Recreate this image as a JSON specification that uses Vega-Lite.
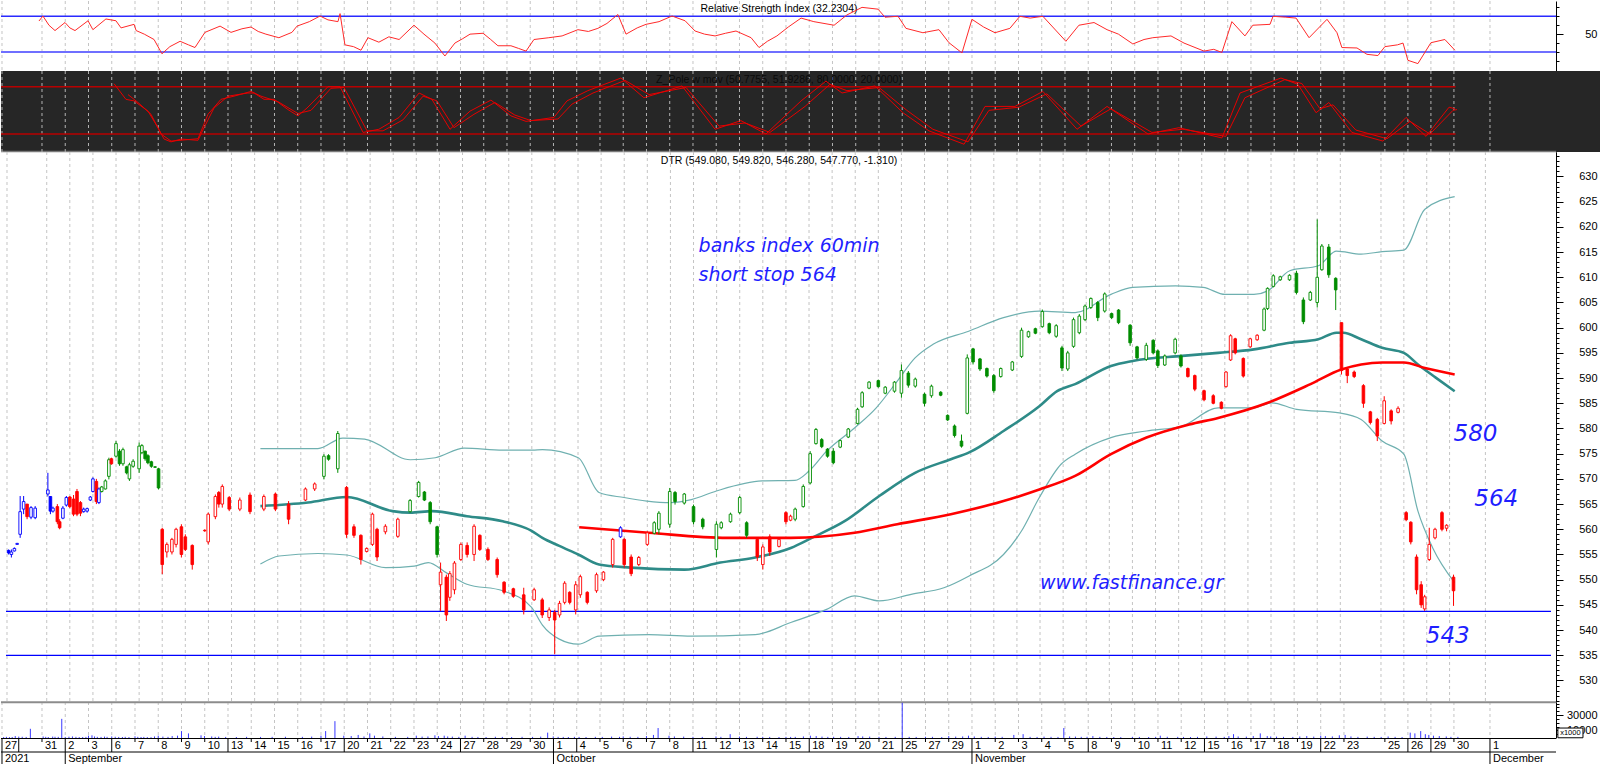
{
"$schema":"https://vega.github.io/schema/vega-lite/v6.json",
"padding":0,"spacing":0,"bounds":"flush","background":"white",
"config":{"view":{"stroke":null},"font":"Liberation Sans","axis":{"grid":false,"labelFontSize":11,"labelFont":"Liberation Sans","labelColor":"#000","domainColor":"#000","tickColor":"#000","labelAlign":"right","labelBaseline":"middle","minExtent":45,"maxExtent":45,"labelFlush":false,"labelOverlap":false}},
"datasets":{
"days":[{"v":0.28,"d":"27","wk":true},{"v":1.0,"d":"","wk":true},{"v":2,"d":"31","wk":false},{"v":3,"d":"2","wk":true},{"v":4,"d":"3","wk":false},{"v":5,"d":"6","wk":true},{"v":6,"d":"7","wk":false},{"v":7,"d":"8","wk":false},{"v":8,"d":"9","wk":false},{"v":9,"d":"10","wk":false},{"v":10,"d":"13","wk":true},{"v":11,"d":"14","wk":false},{"v":12,"d":"15","wk":false},{"v":13,"d":"16","wk":false},{"v":14,"d":"17","wk":false},{"v":15,"d":"20","wk":true},{"v":16,"d":"21","wk":false},{"v":17,"d":"22","wk":false},{"v":18,"d":"23","wk":false},{"v":19,"d":"24","wk":false},{"v":20,"d":"27","wk":true},{"v":21,"d":"28","wk":false},{"v":22,"d":"29","wk":false},{"v":23,"d":"30","wk":false},{"v":24,"d":"1","wk":true},{"v":25,"d":"4","wk":true},{"v":26,"d":"5","wk":false},{"v":27,"d":"6","wk":false},{"v":28,"d":"7","wk":false},{"v":29,"d":"8","wk":false},{"v":30,"d":"11","wk":true},{"v":31,"d":"12","wk":false},{"v":32,"d":"13","wk":false},{"v":33,"d":"14","wk":false},{"v":34,"d":"15","wk":false},{"v":35,"d":"18","wk":true},{"v":36,"d":"19","wk":false},{"v":37,"d":"20","wk":false},{"v":38,"d":"21","wk":false},{"v":39,"d":"25","wk":true},{"v":40,"d":"27","wk":false},{"v":41,"d":"29","wk":false},{"v":42,"d":"1","wk":true},{"v":43,"d":"2","wk":false},{"v":44,"d":"3","wk":false},{"v":45,"d":"4","wk":false},{"v":46,"d":"5","wk":false},{"v":47,"d":"8","wk":true},{"v":48,"d":"9","wk":false},{"v":49,"d":"10","wk":false},{"v":50,"d":"11","wk":false},{"v":51,"d":"12","wk":false},{"v":52,"d":"15","wk":true},{"v":53,"d":"16","wk":false},{"v":54,"d":"17","wk":false},{"v":55,"d":"18","wk":false},{"v":56,"d":"19","wk":false},{"v":57,"d":"22","wk":true},{"v":58,"d":"23","wk":false},{"v":59.76,"d":"25","wk":false},{"v":60.75,"d":"26","wk":true},{"v":61.74,"d":"29","wk":true},{"v":62.73,"d":"30","wk":false},{"v":64.28,"d":"1","wk":true}],
"months":[{"v":0.28,"m":"2021"},{"v":3,"m":"September"},{"v":24,"m":"October"},{"v":42,"m":"November"},{"v":64.28,"m":"December"}],
"rsi":[{"v":1.87,"r":64.7},{"v":2.04,"r":70.3},{"v":2.3,"r":60},{"v":2.56,"r":54},{"v":2.99,"r":63},{"v":3.2,"r":57},{"v":3.42,"r":54},{"v":3.98,"r":65},{"v":4.19,"r":55},{"v":4.75,"r":67},{"v":5.18,"r":65},{"v":5.4,"r":57},{"v":5.96,"r":61},{"v":6.05,"r":54},{"v":6.4,"r":50},{"v":6.82,"r":44},{"v":7.16,"r":28},{"v":7.5,"r":36},{"v":7.94,"r":42},{"v":8.3,"r":38},{"v":8.58,"r":35},{"v":9.01,"r":52},{"v":9.66,"r":59},{"v":10.13,"r":52},{"v":10.6,"r":56},{"v":10.99,"r":58},{"v":11.3,"r":53},{"v":11.63,"r":50},{"v":12.19,"r":46},{"v":12.75,"r":52},{"v":12.97,"r":59},{"v":13.5,"r":64},{"v":13.96,"r":70.3},{"v":14.3,"r":66},{"v":14.73,"r":64},{"v":14.82,"r":73},{"v":15.03,"r":38},{"v":15.4,"r":36},{"v":15.72,"r":32},{"v":16.02,"r":46},{"v":16.49,"r":41},{"v":16.92,"r":47},{"v":17.36,"r":44},{"v":18.0,"r":60},{"v":18.43,"r":50},{"v":18.9,"r":40},{"v":19.33,"r":25.5},{"v":19.76,"r":40},{"v":20.1,"r":45},{"v":20.41,"r":50},{"v":20.97,"r":51},{"v":21.3,"r":44},{"v":21.61,"r":37},{"v":22.17,"r":37},{"v":22.5,"r":34},{"v":22.82,"r":31},{"v":23.16,"r":44},{"v":23.8,"r":46},{"v":24.37,"r":48},{"v":25.05,"r":55},{"v":25.5,"r":53},{"v":25.91,"r":56.5},{"v":26.3,"r":62},{"v":26.77,"r":72},{"v":27.12,"r":50},{"v":27.6,"r":57},{"v":27.98,"r":61},{"v":28.54,"r":64},{"v":29.1,"r":70.3},{"v":29.66,"r":65},{"v":30.09,"r":53.5},{"v":30.5,"r":50},{"v":30.95,"r":48},{"v":31.4,"r":51},{"v":31.85,"r":53.5},{"v":32.5,"r":46},{"v":32.84,"r":35},{"v":33.2,"r":42},{"v":33.61,"r":48},{"v":34.1,"r":58},{"v":34.65,"r":68},{"v":35.2,"r":64},{"v":36.07,"r":60},{"v":36.62,"r":71.5},{"v":37.27,"r":80},{"v":37.96,"r":78},{"v":38.26,"r":69},{"v":38.82,"r":70},{"v":39.16,"r":56.5},{"v":39.89,"r":51.6},{"v":40.58,"r":55},{"v":41.01,"r":40.4},{"v":41.57,"r":29},{"v":42.0,"r":66.6},{"v":42.5,"r":58},{"v":42.99,"r":51.6},{"v":43.63,"r":56.5},{"v":44.06,"r":70},{"v":44.5,"r":68},{"v":45.05,"r":70},{"v":46.04,"r":42},{"v":46.6,"r":60},{"v":47.25,"r":63},{"v":47.81,"r":55},{"v":48.3,"r":50},{"v":48.92,"r":39},{"v":49.4,"r":44},{"v":49.78,"r":46},{"v":50.56,"r":48},{"v":51.12,"r":40},{"v":51.98,"r":31},{"v":52.4,"r":33},{"v":52.75,"r":29.5},{"v":53.18,"r":64},{"v":53.74,"r":48},{"v":54.08,"r":60},{"v":54.82,"r":61},{"v":54.95,"r":70},{"v":55.5,"r":69},{"v":55.94,"r":68},{"v":56.5,"r":46},{"v":57.27,"r":66.6},{"v":57.7,"r":51.6},{"v":57.91,"r":35},{"v":58.56,"r":34.5},{"v":58.99,"r":27.4},{"v":59.46,"r":26},{"v":59.76,"r":36},{"v":60.3,"r":38},{"v":60.54,"r":40},{"v":60.75,"r":20.7},{"v":61.18,"r":17},{"v":61.74,"r":40.4},{"v":62.34,"r":44},{"v":62.77,"r":32}],
"zp":[{"s":"a","v":5.1,"z":83.8},{"s":"a","v":5.61,"z":64},{"s":"a","v":5.96,"z":62},{"s":"a","v":6.56,"z":49},{"s":"a","v":6.99,"z":28},{"s":"a","v":7.25,"z":13.6},{"s":"a","v":7.55,"z":10},{"s":"a","v":7.98,"z":13.6},{"s":"a","v":8.71,"z":12},{"s":"a","v":8.97,"z":28},{"s":"a","v":9.4,"z":53},{"s":"a","v":10.0,"z":68},{"s":"a","v":10.86,"z":72},{"s":"a","v":11.12,"z":72},{"s":"a","v":11.55,"z":64},{"s":"a","v":11.98,"z":64},{"s":"a","v":12.58,"z":51},{"s":"a","v":13.01,"z":43},{"s":"a","v":13.4,"z":53},{"s":"a","v":14.3,"z":80},{"s":"a","v":14.82,"z":80},{"s":"a","v":15.81,"z":22},{"s":"a","v":16.49,"z":26},{"s":"a","v":17.36,"z":41},{"s":"a","v":18.22,"z":72},{"s":"a","v":18.77,"z":64},{"s":"a","v":19.55,"z":26},{"s":"a","v":20.41,"z":49},{"s":"a","v":21.31,"z":63},{"s":"a","v":22.17,"z":43},{"s":"a","v":22.82,"z":36},{"s":"a","v":24.02,"z":41},{"s":"a","v":24.58,"z":62},{"s":"a","v":25.48,"z":75},{"s":"a","v":26.9,"z":91},{"s":"a","v":27.89,"z":66},{"s":"a","v":29.53,"z":81},{"s":"a","v":30.95,"z":26},{"s":"a","v":32.06,"z":37},{"s":"a","v":33.14,"z":20},{"s":"a","v":34.65,"z":62},{"s":"a","v":35.72,"z":87},{"s":"a","v":36.41,"z":72},{"s":"a","v":37.83,"z":81},{"s":"a","v":39.03,"z":47},{"s":"a","v":40.15,"z":24},{"s":"a","v":41.66,"z":7},{"s":"a","v":42.56,"z":55},{"s":"a","v":43.85,"z":55},{"s":"a","v":45.05,"z":74},{"s":"a","v":46.52,"z":26},{"s":"a","v":47.81,"z":55},{"s":"a","v":49.57,"z":20},{"s":"a","v":50.9,"z":28},{"s":"a","v":52.75,"z":15},{"s":"a","v":53.53,"z":72},{"s":"a","v":55.29,"z":91},{"s":"a","v":56.02,"z":83},{"s":"a","v":56.8,"z":47},{"s":"a","v":57.35,"z":60},{"s":"a","v":58.34,"z":22},{"s":"a","v":59.68,"z":11},{"s":"a","v":60.67,"z":41},{"s":"a","v":61.53,"z":17},{"s":"a","v":62.52,"z":54},{"s":"a","v":62.77,"z":52},
{"s":"b","v":5.7,"z":70},{"s":"b","v":6.13,"z":60},{"s":"b","v":6.69,"z":45},{"s":"b","v":7.12,"z":20},{"s":"b","v":7.55,"z":11},{"s":"b","v":8.71,"z":14},{"s":"b","v":9.14,"z":45},{"s":"b","v":9.7,"z":64},{"s":"b","v":10.26,"z":68},{"s":"b","v":10.99,"z":74},{"s":"b","v":11.42,"z":68},{"s":"b","v":12.15,"z":61},{"s":"b","v":13.01,"z":46},{"s":"b","v":13.57,"z":50},{"s":"b","v":14.43,"z":78},{"s":"b","v":14.99,"z":79},{"s":"b","v":15.98,"z":24},{"s":"b","v":16.67,"z":24},{"s":"b","v":17.53,"z":38},{"s":"b","v":18.39,"z":68},{"s":"b","v":18.99,"z":62},{"s":"b","v":19.72,"z":28},{"s":"b","v":20.58,"z":45},{"s":"b","v":21.48,"z":60},{"s":"b","v":22.34,"z":44},{"s":"b","v":23.03,"z":37},{"s":"b","v":24.19,"z":39},{"s":"b","v":24.8,"z":58},{"s":"b","v":25.7,"z":72},{"s":"b","v":27.08,"z":88},{"s":"b","v":28.11,"z":70},{"s":"b","v":29.7,"z":79},{"s":"b","v":31.12,"z":30},{"s":"b","v":32.24,"z":34},{"s":"b","v":33.31,"z":22},{"s":"b","v":34.82,"z":55},{"s":"b","v":35.89,"z":83},{"s":"b","v":36.62,"z":75},{"s":"b","v":38.0,"z":79},{"s":"b","v":39.2,"z":50},{"s":"b","v":40.32,"z":26},{"s":"b","v":41.83,"z":10},{"s":"b","v":42.73,"z":50},{"s":"b","v":44.02,"z":54},{"s":"b","v":45.22,"z":71},{"s":"b","v":46.69,"z":30},{"s":"b","v":47.98,"z":52},{"s":"b","v":49.74,"z":22},{"s":"b","v":51.07,"z":26},{"s":"b","v":52.92,"z":17},{"s":"b","v":53.74,"z":66},{"s":"b","v":55.46,"z":89},{"s":"b","v":56.19,"z":84},{"s":"b","v":56.97,"z":52},{"s":"b","v":57.53,"z":57},{"s":"b","v":58.51,"z":25},{"s":"b","v":59.85,"z":14},{"s":"b","v":60.84,"z":36},{"s":"b","v":61.7,"z":20},{"s":"b","v":62.69,"z":50},{"s":"b","v":62.86,"z":51}],
"bands":[{"s":"up","v":11.25,"y":576.0},{"s":"up","v":13.74,"y":576.0},{"s":"up","v":14.82,"y":578.1},{"s":"up","v":15.76,"y":577.9},{"s":"up","v":17.74,"y":573.8},{"s":"up","v":18.82,"y":574.2},{"s":"up","v":20.07,"y":576.1},{"s":"up","v":21.74,"y":575.7},{"s":"up","v":23.03,"y":575.7},{"s":"up","v":23.46,"y":575.8},{"s":"up","v":25.01,"y":574.2},{"s":"up","v":25.91,"y":567.3},{"s":"up","v":26.99,"y":566.3},{"s":"up","v":27.98,"y":565.6},{"s":"up","v":29.01,"y":565.3},{"s":"up","v":29.91,"y":565.9},{"s":"up","v":30.99,"y":567.6},{"s":"up","v":32.97,"y":569.6},{"s":"up","v":34.39,"y":569.7},{"s":"up","v":34.99,"y":571.5},{"s":"up","v":35.76,"y":575.5},{"s":"up","v":36.97,"y":580.1},{"s":"up","v":37.91,"y":584.1},{"s":"up","v":38.82,"y":589.4},{"s":"up","v":39.59,"y":594.0},{"s":"up","v":40.37,"y":596.7},{"s":"up","v":41.91,"y":599.3},{"s":"up","v":43.42,"y":602.0},{"s":"up","v":44.97,"y":603.3},{"s":"up","v":46.52,"y":603.0},{"s":"up","v":48.07,"y":606.6},{"s":"up","v":49.01,"y":608.0},{"s":"up","v":50.86,"y":608.3},{"s":"up","v":52.06,"y":608.0},{"s":"up","v":53.01,"y":606.6},{"s":"up","v":54.26,"y":606.6},{"s":"up","v":54.86,"y":607.3},{"s":"up","v":55.81,"y":611.3},{"s":"up","v":57.05,"y":612.3},{"s":"up","v":57.83,"y":615.2},{"s":"up","v":58.9,"y":614.6},{"s":"up","v":59.81,"y":615.1},{"s":"up","v":60.75,"y":615.4},{"s":"up","v":61.66,"y":623.5},{"s":"up","v":62.95,"y":626.0},
{"s":"mid","v":11.25,"y":564.6},{"s":"mid","v":13.31,"y":565.3},{"s":"mid","v":14.99,"y":566.4},{"s":"mid","v":16.97,"y":563.6},{"s":"mid","v":17.74,"y":563.3},{"s":"mid","v":18.69,"y":563.6},{"s":"mid","v":20.19,"y":562.6},{"s":"mid","v":21.74,"y":561.6},{"s":"mid","v":22.99,"y":559.7},{"s":"mid","v":23.46,"y":558.3},{"s":"mid","v":24.19,"y":556.7},{"s":"mid","v":25.01,"y":555.0},{"s":"mid","v":25.91,"y":553.0},{"s":"mid","v":27.29,"y":552.4},{"s":"mid","v":29.61,"y":552.0},{"s":"mid","v":31.16,"y":553.4},{"s":"mid","v":32.67,"y":554.4},{"s":"mid","v":34.21,"y":556.3},{"s":"mid","v":35.12,"y":558.3},{"s":"mid","v":36.54,"y":561.6},{"s":"mid","v":38.04,"y":566.6},{"s":"mid","v":39.59,"y":571.2},{"s":"mid","v":41.14,"y":573.9},{"s":"mid","v":41.91,"y":575.2},{"s":"mid","v":43.42,"y":579.5},{"s":"mid","v":44.97,"y":584.4},{"s":"mid","v":45.74,"y":587.4},{"s":"mid","v":46.52,"y":588.8},{"s":"mid","v":48.07,"y":592.4},{"s":"mid","v":49.01,"y":593.4},{"s":"mid","v":51.16,"y":594.4},{"s":"mid","v":52.71,"y":595.0},{"s":"mid","v":54.26,"y":595.7},{"s":"mid","v":55.81,"y":597.0},{"s":"mid","v":57.05,"y":597.7},{"s":"mid","v":57.83,"y":599.0},{"s":"mid","v":58.13,"y":599.0},{"s":"mid","v":58.9,"y":597.7},{"s":"mid","v":59.81,"y":596.0},{"s":"mid","v":60.75,"y":595.0},{"s":"mid","v":61.36,"y":592.7},{"s":"mid","v":62.13,"y":590.1},{"s":"mid","v":62.95,"y":587.4},
{"s":"lo","v":11.25,"y":553.1},{"s":"lo","v":12.06,"y":554.7},{"s":"lo","v":13.74,"y":555.2},{"s":"lo","v":14.99,"y":554.9},{"s":"lo","v":16.67,"y":552.4},{"s":"lo","v":17.91,"y":552.7},{"s":"lo","v":18.52,"y":553.4},{"s":"lo","v":19.29,"y":551.4},{"s":"lo","v":20.19,"y":549.1},{"s":"lo","v":21.74,"y":547.8},{"s":"lo","v":22.99,"y":544.5},{"s":"lo","v":23.46,"y":541.0},{"s":"lo","v":24.19,"y":538.2},{"s":"lo","v":25.01,"y":537.2},{"s":"lo","v":25.91,"y":538.8},{"s":"lo","v":28.06,"y":539.1},{"s":"lo","v":29.91,"y":538.8},{"s":"lo","v":32.67,"y":539.1},{"s":"lo","v":34.21,"y":541.5},{"s":"lo","v":35.76,"y":544.1},{"s":"lo","v":36.97,"y":546.8},{"s":"lo","v":38.04,"y":545.8},{"s":"lo","v":39.42,"y":547.1},{"s":"lo","v":40.84,"y":548.4},{"s":"lo","v":41.91,"y":550.7},{"s":"lo","v":43.42,"y":555.0},{"s":"lo","v":44.19,"y":559.6},{"s":"lo","v":44.97,"y":566.3},{"s":"lo","v":45.91,"y":572.9},{"s":"lo","v":46.52,"y":574.9},{"s":"lo","v":48.07,"y":578.2},{"s":"lo","v":49.61,"y":579.5},{"s":"lo","v":51.16,"y":580.5},{"s":"lo","v":52.71,"y":584.1},{"s":"lo","v":54.26,"y":584.1},{"s":"lo","v":55.03,"y":585.1},{"s":"lo","v":56.11,"y":583.8},{"s":"lo","v":57.96,"y":583.1},{"s":"lo","v":58.9,"y":581.8},{"s":"lo","v":59.81,"y":577.5},{"s":"lo","v":60.75,"y":574.9},{"s":"lo","v":61.36,"y":563.6},{"s":"lo","v":62.0,"y":556.3},{"s":"lo","v":62.95,"y":549.4},
{"s":"ma","v":25.05,"y":560.4},{"s":"ma","v":28.06,"y":559.3},{"s":"ma","v":31.46,"y":558.3},{"s":"ma","v":34.21,"y":558.3},{"s":"ma","v":36.97,"y":559.3},{"s":"ma","v":38.82,"y":561.0},{"s":"ma","v":41.14,"y":563.0},{"s":"ma","v":43.42,"y":565.6},{"s":"ma","v":44.97,"y":567.9},{"s":"ma","v":46.52,"y":570.6},{"s":"ma","v":48.07,"y":574.9},{"s":"ma","v":49.61,"y":578.2},{"s":"ma","v":51.46,"y":580.8},{"s":"ma","v":52.71,"y":582.1},{"s":"ma","v":54.86,"y":585.1},{"s":"ma","v":56.71,"y":588.8},{"s":"ma","v":58.04,"y":591.7},{"s":"ma","v":58.9,"y":592.7},{"s":"ma","v":59.81,"y":593.1},{"s":"ma","v":60.75,"y":593.1},{"s":"ma","v":61.66,"y":592.0},{"s":"ma","v":62.95,"y":590.7}],
"candles":[{"v":0.35,"o":555.8,"h":556.0,"l":555.0,"c":555.3,"tr":"b","vol":1200},{"v":0.47,"o":555.0,"h":556.0,"l":554.4,"c":555.5,"tr":"b","vol":1500},{"v":0.6,"o":555.7,"h":556.4,"l":555.6,"c":556.2,"tr":"b","vol":1100},{"v":0.72,"o":557.0,"h":557.3,"l":556.9,"c":557.2,"tr":"b","vol":1300},{"v":0.85,"o":559.0,"h":566.6,"l":558.3,"c":563.5,"tr":"b","vol":2500},{"v":1.0,"o":564.0,"h":566.6,"l":563.0,"c":565.5,"tr":"b","vol":1800},{"v":1.15,"o":565.0,"h":565.0,"l":562.0,"c":562.5,"tr":"r","vol":1600},{"v":1.32,"o":562.4,"h":564.6,"l":562.0,"c":564.3,"tr":"b","vol":1400},{"v":1.5,"o":562.3,"h":564.6,"l":562.0,"c":564.2,"tr":"b","vol":12000},{"v":2.05,"o":567.0,"h":571.2,"l":566.5,"c":567.8,"tr":"b","vol":2000},{"v":2.16,"o":566.5,"h":566.6,"l":563.0,"c":563.6,"tr":"b","vol":1500},{"v":2.27,"o":563.6,"h":564.5,"l":563.3,"c":564.2,"tr":"b","vol":1300},{"v":2.46,"o":564.5,"h":565.0,"l":561.0,"c":561.5,"tr":"r","vol":1800},{"v":2.56,"o":561.5,"h":562.0,"l":560.0,"c":560.3,"tr":"r","vol":1600},{"v":2.7,"o":562.2,"h":564.6,"l":562.0,"c":564.2,"tr":"b","vol":1500},{"v":2.85,"o":564.8,"h":566.6,"l":564.5,"c":566.3,"tr":"b","vol":25000},{"v":3.0,"o":566.4,"h":566.6,"l":564.2,"c":564.5,"tr":"r","vol":1400},{"v":3.16,"o":566.0,"h":566.8,"l":562.6,"c":563.0,"tr":"r","vol":1700},{"v":3.31,"o":567.5,"h":568.0,"l":562.6,"c":563.0,"tr":"r","vol":2000},{"v":3.46,"o":565.3,"h":565.6,"l":562.6,"c":563.2,"tr":"r","vol":1500},{"v":3.6,"o":563.5,"h":564.3,"l":563.3,"c":564.0,"tr":"b","vol":1200},{"v":3.75,"o":563.6,"h":564.3,"l":563.3,"c":564.1,"tr":"b","vol":1300},{"v":3.89,"o":565.8,"h":566.6,"l":565.6,"c":566.4,"tr":"b","vol":1400},{"v":4.0,"o":567.5,"h":570.3,"l":567.3,"c":570.0,"tr":"b","vol":3000},{"v":4.15,"o":569.5,"h":570.0,"l":565.0,"c":565.5,"tr":"r","vol":3500},{"v":4.26,"o":565.3,"h":568.3,"l":565.0,"c":568.0,"tr":"b","vol":2000},{"v":4.38,"o":567.5,"h":568.6,"l":567.3,"c":568.4,"tr":"g","vol":1500},{"v":4.54,"o":568.0,"h":569.9,"l":567.9,"c":569.6,"tr":"g","vol":1400},{"v":4.69,"o":570.5,"h":574.2,"l":569.9,"c":573.8,"tr":"g","vol":1800},{"v":4.8,"o":574.0,"h":574.2,"l":572.8,"c":573.0,"tr":"r","vol":1500},{"v":5.0,"o":574.5,"h":577.5,"l":574.2,"c":577.0,"tr":"g","vol":2000},{"v":5.15,"o":575.5,"h":575.9,"l":572.6,"c":573.0,"tr":"g","vol":1600},{"v":5.3,"o":573.0,"h":576.2,"l":572.6,"c":575.8,"tr":"g","vol":1400},{"v":5.46,"o":572.4,"h":572.6,"l":570.9,"c":571.2,"tr":"g","vol":1300},{"v":5.58,"o":570.0,"h":573.2,"l":569.6,"c":572.8,"tr":"g","vol":1500},{"v":5.74,"o":572.5,"h":573.9,"l":572.2,"c":573.5,"tr":"g","vol":1200},{"v":6.0,"o":572.0,"h":577.2,"l":571.2,"c":576.5,"tr":"g","vol":2200},{"v":6.12,"o":575.2,"h":576.9,"l":574.9,"c":576.6,"tr":"g","vol":1500},{"v":6.26,"o":575.5,"h":575.6,"l":573.6,"c":574.0,"tr":"g","vol":1300},{"v":6.38,"o":574.6,"h":574.9,"l":572.9,"c":573.2,"tr":"g","vol":1400},{"v":6.53,"o":573.4,"h":573.6,"l":572.2,"c":572.5,"tr":"g","vol":1200},{"v":6.69,"o":572.4,"h":572.5,"l":572.2,"c":572.3,"tr":"g","vol":1100},{"v":6.84,"o":572.0,"h":572.2,"l":567.9,"c":568.2,"tr":"g","vol":2000},{"v":7.0,"o":560.0,"h":560.3,"l":551.1,"c":553.0,"tr":"r","vol":3000},{"v":7.2,"o":555.5,"h":557.4,"l":554.4,"c":557.0,"tr":"r","vol":1800},{"v":7.42,"o":555.5,"h":558.3,"l":555.0,"c":558.0,"tr":"r","vol":1500},{"v":7.6,"o":557.0,"h":560.3,"l":556.4,"c":560.0,"tr":"r","vol":2500},{"v":7.83,"o":560.5,"h":561.0,"l":554.4,"c":555.0,"tr":"r","vol":3000},{"v":8.0,"o":558.5,"h":559.0,"l":555.7,"c":556.0,"tr":"r","vol":9000},{"v":8.3,"o":556.8,"h":557.0,"l":552.0,"c":553.0,"tr":"r","vol":6000},{"v":8.84,"o":559.8,"h":560.0,"l":559.5,"c":559.7,"tr":"r","vol":3500},{"v":8.99,"o":557.5,"h":563.3,"l":557.0,"c":563.0,"tr":"r","vol":2500},{"v":9.3,"o":562.5,"h":566.9,"l":562.0,"c":566.5,"tr":"r","vol":2000},{"v":9.45,"o":567.3,"h":567.6,"l":564.3,"c":565.0,"tr":"r","vol":1500},{"v":9.6,"o":565.0,"h":568.9,"l":564.3,"c":568.5,"tr":"r","vol":1800},{"v":9.9,"o":566.3,"h":566.6,"l":563.6,"c":564.0,"tr":"r","vol":1400},{"v":10.36,"o":564.0,"h":566.3,"l":563.6,"c":565.8,"tr":"r","vol":1300},{"v":10.8,"o":566.8,"h":567.3,"l":563.0,"c":563.5,"tr":"r","vol":1500},{"v":11.4,"o":564.0,"h":566.9,"l":563.6,"c":566.5,"tr":"r","vol":1400},{"v":11.9,"o":567.0,"h":567.3,"l":563.6,"c":564.0,"tr":"r","vol":1500},{"v":12.47,"o":565.0,"h":565.6,"l":561.0,"c":562.0,"tr":"r","vol":1600},{"v":13.2,"o":565.8,"h":568.3,"l":565.6,"c":568.0,"tr":"r","vol":1500},{"v":13.6,"o":568.0,"h":569.3,"l":567.6,"c":569.0,"tr":"r","vol":1800},{"v":14.0,"o":570.5,"h":574.9,"l":569.9,"c":574.5,"tr":"g","vol":3000},{"v":14.2,"o":574.6,"h":574.9,"l":573.6,"c":573.9,"tr":"g","vol":9000},{"v":14.6,"o":572.0,"h":579.5,"l":571.2,"c":579.0,"tr":"g","vol":22000},{"v":14.98,"o":568.3,"h":568.6,"l":558.3,"c":559.0,"tr":"r","vol":3000},{"v":15.3,"o":560.5,"h":561.0,"l":558.3,"c":558.8,"tr":"r","vol":2500},{"v":15.6,"o":558.8,"h":559.0,"l":553.0,"c":554.0,"tr":"r","vol":4000},{"v":15.85,"o":555.6,"h":556.4,"l":555.4,"c":556.2,"tr":"r","vol":2000},{"v":16.1,"o":557.0,"h":563.3,"l":556.7,"c":563.0,"tr":"r","vol":6000},{"v":16.3,"o":560.0,"h":560.3,"l":553.7,"c":554.5,"tr":"r","vol":3000},{"v":16.66,"o":559.5,"h":561.0,"l":559.0,"c":560.6,"tr":"r","vol":2000},{"v":17.2,"o":558.6,"h":562.3,"l":558.3,"c":562.0,"tr":"r","vol":1500},{"v":17.73,"o":563.5,"h":566.0,"l":563.3,"c":565.7,"tr":"g","vol":1500},{"v":18.1,"o":566.5,"h":569.6,"l":566.3,"c":569.3,"tr":"g","vol":3000},{"v":18.35,"o":567.4,"h":567.6,"l":565.6,"c":565.8,"tr":"g","vol":1800},{"v":18.6,"o":565.3,"h":565.6,"l":561.0,"c":561.5,"tr":"g","vol":2000},{"v":18.9,"o":560.5,"h":560.7,"l":554.4,"c":555.0,"tr":"g","vol":3500},{"v":19.05,"o":549.0,"h":553.4,"l":543.8,"c":551.5,"tr":"r","vol":2500},{"v":19.3,"o":550.5,"h":551.0,"l":541.8,"c":543.0,"tr":"r","vol":3000},{"v":19.45,"o":546.5,"h":551.7,"l":545.8,"c":551.2,"tr":"r","vol":2000},{"v":19.65,"o":548.0,"h":553.7,"l":547.1,"c":553.3,"tr":"r","vol":1800},{"v":19.93,"o":554.0,"h":557.4,"l":553.7,"c":557.0,"tr":"r","vol":1500},{"v":20.2,"o":556.8,"h":557.4,"l":554.4,"c":555.0,"tr":"r","vol":3000},{"v":20.5,"o":555.0,"h":561.0,"l":553.7,"c":560.6,"tr":"r","vol":1500},{"v":20.75,"o":558.8,"h":559.0,"l":555.7,"c":556.0,"tr":"r","vol":1400},{"v":21.1,"o":556.0,"h":556.4,"l":553.7,"c":554.0,"tr":"r","vol":1300},{"v":21.5,"o":554.0,"h":554.4,"l":550.4,"c":551.0,"tr":"r","vol":1600},{"v":21.8,"o":549.5,"h":549.7,"l":547.1,"c":547.5,"tr":"r","vol":1400},{"v":22.2,"o":548.2,"h":548.4,"l":546.4,"c":546.7,"tr":"r","vol":1300},{"v":22.65,"o":547.0,"h":548.4,"l":543.1,"c":544.0,"tr":"r","vol":1500},{"v":23.1,"o":546.0,"h":548.4,"l":545.8,"c":548.0,"tr":"r","vol":1400},{"v":23.45,"o":546.0,"h":546.4,"l":542.4,"c":543.0,"tr":"r","vol":1800},{"v":23.75,"o":542.5,"h":544.5,"l":541.8,"c":544.0,"tr":"r","vol":7000},{"v":23.99,"o":543.5,"h":544.0,"l":535.2,"c":542.0,"tr":"r","vol":2000},{"v":24.2,"o":543.0,"h":545.8,"l":542.5,"c":545.3,"tr":"r","vol":1500},{"v":24.42,"o":545.5,"h":549.7,"l":545.1,"c":549.3,"tr":"r","vol":1400},{"v":24.64,"o":547.5,"h":547.7,"l":545.1,"c":545.5,"tr":"r","vol":1300},{"v":24.9,"o":544.0,"h":549.7,"l":543.1,"c":549.0,"tr":"r","vol":1500},{"v":25.1,"o":547.0,"h":551.0,"l":546.4,"c":550.6,"tr":"r","vol":1400},{"v":25.4,"o":547.5,"h":547.7,"l":545.1,"c":545.5,"tr":"r","vol":1300},{"v":25.8,"o":547.8,"h":551.4,"l":547.4,"c":551.0,"tr":"r","vol":1500},{"v":26.1,"o":550.0,"h":551.7,"l":549.7,"c":551.5,"tr":"r","vol":1400},{"v":26.5,"o":553.0,"h":558.3,"l":552.4,"c":558.0,"tr":"r","vol":1800},{"v":26.84,"o":558.5,"h":560.6,"l":558.3,"c":560.3,"tr":"b","vol":1500},{"v":27.0,"o":558.0,"h":558.3,"l":552.4,"c":553.0,"tr":"r","vol":2000},{"v":27.3,"o":554.5,"h":555.0,"l":550.7,"c":551.2,"tr":"r","vol":1600},{"v":27.63,"o":553.0,"h":554.7,"l":552.7,"c":554.4,"tr":"r","vol":1500},{"v":28.0,"o":557.0,"h":559.6,"l":556.7,"c":559.3,"tr":"r","vol":2500},{"v":28.3,"o":559.2,"h":561.6,"l":559.0,"c":561.3,"tr":"g","vol":4000},{"v":28.5,"o":560.0,"h":563.6,"l":559.0,"c":563.2,"tr":"g","vol":13000},{"v":28.97,"o":561.0,"h":568.2,"l":560.3,"c":567.5,"tr":"g","vol":3000},{"v":29.2,"o":567.3,"h":567.6,"l":564.9,"c":565.5,"tr":"g","vol":2000},{"v":29.6,"o":565.2,"h":567.2,"l":564.9,"c":567.0,"tr":"g","vol":1800},{"v":30.0,"o":564.5,"h":564.9,"l":561.0,"c":561.5,"tr":"g","vol":1500},{"v":30.4,"o":562.0,"h":562.3,"l":560.0,"c":560.5,"tr":"g","vol":1400},{"v":30.99,"o":556.0,"h":561.6,"l":554.4,"c":561.0,"tr":"g","vol":2000},{"v":31.2,"o":560.3,"h":561.6,"l":560.0,"c":561.3,"tr":"g","vol":1500},{"v":31.6,"o":561.5,"h":563.3,"l":561.3,"c":563.0,"tr":"g","vol":5000},{"v":32.0,"o":563.3,"h":566.6,"l":563.0,"c":566.3,"tr":"g","vol":1800},{"v":32.3,"o":561.3,"h":561.6,"l":558.3,"c":558.8,"tr":"g","vol":1500},{"v":32.76,"o":558.0,"h":558.3,"l":553.7,"c":554.5,"tr":"r","vol":1600},{"v":33.0,"o":553.0,"h":557.0,"l":552.0,"c":556.5,"tr":"r","vol":1500},{"v":33.3,"o":558.5,"h":559.0,"l":554.7,"c":555.5,"tr":"r","vol":1400},{"v":33.7,"o":556.6,"h":558.3,"l":556.4,"c":558.0,"tr":"r","vol":1300},{"v":34.0,"o":563.3,"h":563.6,"l":561.0,"c":561.5,"tr":"r","vol":1500},{"v":34.2,"o":561.8,"h":562.9,"l":561.6,"c":562.6,"tr":"r","vol":1400},{"v":34.4,"o":562.0,"h":564.3,"l":561.6,"c":564.0,"tr":"g","vol":1500},{"v":34.75,"o":564.5,"h":568.9,"l":564.3,"c":568.5,"tr":"g","vol":2000},{"v":35.05,"o":569.2,"h":575.5,"l":568.9,"c":575.0,"tr":"g","vol":3000},{"v":35.3,"o":577.0,"h":580.1,"l":576.8,"c":579.8,"tr":"g","vol":2500},{"v":35.55,"o":577.8,"h":578.1,"l":576.1,"c":576.4,"tr":"g","vol":1800},{"v":35.8,"o":575.9,"h":576.1,"l":574.2,"c":574.5,"tr":"g","vol":1500},{"v":36.05,"o":575.5,"h":576.1,"l":572.9,"c":573.2,"tr":"g","vol":1600},{"v":36.35,"o":576.3,"h":577.8,"l":576.1,"c":577.6,"tr":"g","vol":1500},{"v":36.7,"o":578.3,"h":580.1,"l":578.1,"c":579.9,"tr":"g","vol":1400},{"v":37.1,"o":581.0,"h":584.1,"l":580.8,"c":583.8,"tr":"g","vol":2500},{"v":37.3,"o":584.3,"h":587.4,"l":584.1,"c":587.1,"tr":"g","vol":2000},{"v":37.6,"o":588.0,"h":589.4,"l":587.8,"c":589.2,"tr":"g","vol":1800},{"v":38.0,"o":589.5,"h":589.7,"l":588.1,"c":588.3,"tr":"g","vol":1500},{"v":38.3,"o":587.0,"h":588.4,"l":586.8,"c":588.2,"tr":"g","vol":1400},{"v":38.7,"o":587.4,"h":589.4,"l":587.1,"c":589.2,"tr":"g","vol":1500},{"v":39.0,"o":587.0,"h":592.7,"l":586.1,"c":591.5,"tr":"g","vol":46000},{"v":39.3,"o":591.0,"h":591.4,"l":588.1,"c":588.6,"tr":"g","vol":1500},{"v":39.6,"o":588.4,"h":590.1,"l":588.1,"c":589.8,"tr":"g","vol":1400},{"v":40.0,"o":586.8,"h":587.1,"l":584.4,"c":585.0,"tr":"g","vol":1600},{"v":40.3,"o":586.5,"h":588.7,"l":586.1,"c":588.4,"tr":"g","vol":1500},{"v":40.7,"o":587.2,"h":587.4,"l":586.4,"c":586.6,"tr":"g","vol":1300},{"v":41.0,"o":582.6,"h":582.8,"l":581.5,"c":581.7,"tr":"g","vol":2500},{"v":41.3,"o":580.5,"h":580.8,"l":578.2,"c":578.6,"tr":"g","vol":1800},{"v":41.6,"o":577.5,"h":578.8,"l":576.2,"c":576.5,"tr":"g","vol":2000},{"v":41.85,"o":583.0,"h":594.7,"l":582.8,"c":594.0,"tr":"g","vol":3000},{"v":42.1,"o":595.8,"h":596.0,"l":592.7,"c":593.2,"tr":"g","vol":2000},{"v":42.4,"o":593.8,"h":594.0,"l":591.4,"c":591.8,"tr":"g","vol":1500},{"v":42.7,"o":591.9,"h":592.1,"l":590.1,"c":590.4,"tr":"g","vol":1400},{"v":43.0,"o":590.5,"h":590.8,"l":587.1,"c":587.5,"tr":"g","vol":1800},{"v":43.3,"o":590.3,"h":592.1,"l":590.1,"c":591.9,"tr":"g","vol":1500},{"v":43.8,"o":591.6,"h":593.4,"l":591.4,"c":593.2,"tr":"g","vol":4000},{"v":44.2,"o":594.3,"h":600.0,"l":594.0,"c":599.5,"tr":"g","vol":5000},{"v":44.5,"o":598.2,"h":599.4,"l":598.0,"c":599.2,"tr":"g","vol":1500},{"v":44.8,"o":599.8,"h":600.0,"l":598.7,"c":598.9,"tr":"g","vol":1400},{"v":45.1,"o":600.2,"h":603.6,"l":600.0,"c":603.2,"tr":"g","vol":1800},{"v":45.4,"o":600.8,"h":601.0,"l":598.7,"c":599.0,"tr":"g","vol":1500},{"v":45.7,"o":598.3,"h":600.7,"l":598.0,"c":600.4,"tr":"g","vol":1400},{"v":45.95,"o":596.0,"h":596.4,"l":591.4,"c":592.0,"tr":"g","vol":13000},{"v":46.2,"o":591.8,"h":595.4,"l":591.4,"c":595.0,"tr":"g","vol":2000},{"v":46.45,"o":596.3,"h":602.0,"l":596.0,"c":601.6,"tr":"g","vol":1800},{"v":46.7,"o":599.0,"h":602.7,"l":598.7,"c":602.3,"tr":"g","vol":1500},{"v":46.95,"o":601.6,"h":604.6,"l":601.3,"c":604.3,"tr":"g","vol":1600},{"v":47.2,"o":604.0,"h":606.0,"l":603.7,"c":605.8,"tr":"g","vol":2500},{"v":47.5,"o":605.0,"h":605.3,"l":601.3,"c":602.0,"tr":"g","vol":1500},{"v":47.8,"o":603.3,"h":607.0,"l":603.0,"c":606.7,"tr":"g","vol":1400},{"v":48.1,"o":602.8,"h":603.0,"l":601.7,"c":602.0,"tr":"g","vol":1300},{"v":48.4,"o":603.5,"h":603.7,"l":600.7,"c":601.0,"tr":"g","vol":1200},{"v":48.9,"o":600.5,"h":600.7,"l":596.4,"c":597.0,"tr":"g","vol":1500},{"v":49.2,"o":596.2,"h":596.4,"l":593.7,"c":594.0,"tr":"g","vol":1400},{"v":49.6,"o":593.7,"h":597.0,"l":593.4,"c":596.5,"tr":"g","vol":1300},{"v":49.9,"o":597.5,"h":597.7,"l":594.7,"c":595.0,"tr":"g","vol":1500},{"v":50.1,"o":595.4,"h":595.7,"l":592.0,"c":592.5,"tr":"g","vol":3000},{"v":50.4,"o":592.6,"h":594.7,"l":592.4,"c":594.4,"tr":"g","vol":1600},{"v":50.85,"o":595.0,"h":598.0,"l":594.7,"c":597.7,"tr":"g","vol":1500},{"v":51.1,"o":594.4,"h":594.7,"l":592.1,"c":592.4,"tr":"g","vol":1400},{"v":51.4,"o":591.9,"h":592.1,"l":590.1,"c":590.3,"tr":"r","vol":1300},{"v":51.7,"o":590.5,"h":590.7,"l":587.4,"c":587.8,"tr":"r","vol":1500},{"v":52.1,"o":587.5,"h":587.7,"l":585.4,"c":585.7,"tr":"r","vol":2000},{"v":52.5,"o":586.5,"h":586.8,"l":584.8,"c":585.0,"tr":"r","vol":1800},{"v":52.85,"o":585.2,"h":585.4,"l":583.8,"c":584.0,"tr":"r","vol":1500},{"v":53.05,"o":588.3,"h":591.4,"l":588.1,"c":591.2,"tr":"r","vol":2500},{"v":53.25,"o":593.6,"h":598.7,"l":593.4,"c":598.4,"tr":"r","vol":5000},{"v":53.45,"o":597.8,"h":598.0,"l":594.7,"c":595.0,"tr":"r","vol":2000},{"v":53.8,"o":593.9,"h":594.1,"l":590.1,"c":590.4,"tr":"r","vol":1800},{"v":54.1,"o":596.2,"h":598.0,"l":596.0,"c":597.8,"tr":"r","vol":2500},{"v":54.4,"o":597.6,"h":598.7,"l":597.4,"c":598.5,"tr":"r","vol":6000},{"v":54.7,"o":599.5,"h":604.0,"l":599.3,"c":603.7,"tr":"g","vol":2500},{"v":54.85,"o":603.8,"h":608.0,"l":603.5,"c":607.8,"tr":"g","vol":2000},{"v":55.1,"o":608.2,"h":610.6,"l":608.0,"c":610.3,"tr":"g","vol":1800},{"v":55.4,"o":609.5,"h":610.3,"l":609.3,"c":610.1,"tr":"g","vol":1500},{"v":55.8,"o":609.5,"h":610.6,"l":609.3,"c":610.4,"tr":"g","vol":1400},{"v":56.1,"o":610.8,"h":611.3,"l":606.6,"c":607.0,"tr":"g","vol":2000},{"v":56.4,"o":605.5,"h":606.0,"l":600.7,"c":601.2,"tr":"g","vol":2500},{"v":56.7,"o":605.5,"h":607.3,"l":605.3,"c":607.0,"tr":"g","vol":1800},{"v":57.0,"o":605.0,"h":621.5,"l":604.0,"c":610.0,"tr":"g","vol":3000},{"v":57.2,"o":611.5,"h":616.6,"l":611.3,"c":616.2,"tr":"g","vol":2500},{"v":57.5,"o":616.0,"h":616.6,"l":609.9,"c":610.5,"tr":"g","vol":2000},{"v":57.8,"o":609.8,"h":610.0,"l":603.5,"c":607.5,"tr":"g","vol":3500},{"v":58.05,"o":601.0,"h":601.0,"l":590.7,"c":591.5,"tr":"r","vol":4000},{"v":58.3,"o":591.8,"h":592.0,"l":589.0,"c":590.5,"tr":"r","vol":2000},{"v":58.6,"o":591.2,"h":591.5,"l":590.0,"c":590.3,"tr":"r","vol":1500},{"v":59.0,"o":588.5,"h":588.8,"l":584.1,"c":585.0,"tr":"r","vol":1800},{"v":59.3,"o":583.3,"h":583.5,"l":580.8,"c":581.2,"tr":"r","vol":1500},{"v":59.6,"o":581.8,"h":582.1,"l":577.5,"c":578.5,"tr":"r","vol":1400},{"v":59.9,"o":581.0,"h":586.4,"l":580.8,"c":585.5,"tr":"r","vol":2000},{"v":60.2,"o":583.5,"h":583.8,"l":580.8,"c":581.5,"tr":"r","vol":1500},{"v":60.5,"o":583.2,"h":584.4,"l":583.0,"c":584.0,"tr":"r","vol":1300},{"v":60.85,"o":563.3,"h":563.6,"l":561.6,"c":561.9,"tr":"r","vol":7000},{"v":61.05,"o":561.4,"h":561.6,"l":557.0,"c":557.5,"tr":"r","vol":6000},{"v":61.3,"o":554.5,"h":555.0,"l":547.1,"c":548.0,"tr":"r","vol":9000},{"v":61.5,"o":549.0,"h":549.7,"l":544.4,"c":545.0,"tr":"r","vol":5000},{"v":61.65,"o":544.2,"h":547.0,"l":543.8,"c":546.6,"tr":"r","vol":4000},{"v":61.85,"o":554.0,"h":560.3,"l":553.7,"c":557.0,"tr":"r","vol":3000},{"v":62.1,"o":558.3,"h":560.3,"l":558.0,"c":560.0,"tr":"r","vol":2500},{"v":62.4,"o":563.3,"h":563.6,"l":559.6,"c":560.0,"tr":"r","vol":2000},{"v":62.6,"o":560.2,"h":561.0,"l":559.6,"c":560.8,"tr":"r","vol":1500},{"v":62.9,"o":550.5,"h":551.0,"l":544.8,"c":547.8,"tr":"r","vol":1500}]
},
"vconcat":[
{"width":1555,"height":70,"layer":[
{"data":{"name":"days"},"transform":[{"filter":"datum.d != ''"}],"mark":{"type":"rule","color":"#c4c4c4","strokeDash":[3,3],"strokeWidth":1},"encoding":{"x":{"field":"v","type":"quantitative","scale":{"domain":[0.237,67.12],"nice":false,"zero":false},"axis":null}}},
{"data":{"values":[{"lvl":70}]},"mark":{"type":"rule","color":"#2a2aff","strokeWidth":1.5},"encoding":{"x":{"datum":0.237,"type":"quantitative","scale":{"domain":[0.237,67.12],"nice":false,"zero":false},"axis":null},"x2":{"datum":67.12},"y":{"field":"lvl","type":"quantitative","scale":{"domain":[8.71,87.14],"nice":false,"zero":false},"axis":{"orient":"right","values":[20,30,40,50,60,70,80],"labelExpr":"datum.value == 50 ? '50' : ''","title":null,"tickSize":{"condition":{"test":"datum.value == 50","value":7},"value":3},"labelPadding":34}}}},
{"data":{"values":[{"lvl":30}]},"mark":{"type":"rule","color":"#6f6fff","strokeWidth":2},"encoding":{"x":{"datum":0.237,"type":"quantitative","scale":{"domain":[0.237,67.12],"nice":false,"zero":false},"axis":null},"x2":{"datum":67.12},"y":{"field":"lvl","type":"quantitative","scale":{"domain":[8.71,87.14],"nice":false,"zero":false},"axis":{"orient":"right","values":[20,30,40,50,60,70,80],"labelExpr":"datum.value == 50 ? '50' : ''","title":null,"tickSize":{"condition":{"test":"datum.value == 50","value":7},"value":3},"labelPadding":34}}}},
{"data":{"values":[{}]},"mark":{"type":"text","text":"Relative Strength Index (32.2304)","fontSize":10.5,"font":"Liberation Sans","color":"#000","align":"center","baseline":"middle"},"encoding":{"x":{"datum":33.7,"type":"quantitative","scale":{"domain":[0.237,67.12],"nice":false,"zero":false},"axis":null},"y":{"datum":78.2,"type":"quantitative","scale":{"domain":[8.71,87.14],"nice":false,"zero":false},"axis":{"orient":"right","values":[20,30,40,50,60,70,80],"labelExpr":"datum.value == 50 ? '50' : ''","title":null,"tickSize":{"condition":{"test":"datum.value == 50","value":7},"value":3},"labelPadding":34}}}},
{"data":{"name":"rsi"},"mark":{"type":"line","color":"#ff2a2a","strokeWidth":1},"encoding":{"x":{"field":"v","type":"quantitative","scale":{"domain":[0.237,67.12],"nice":false,"zero":false},"axis":null},"y":{"field":"r","type":"quantitative","scale":{"domain":[8.71,87.14],"nice":false,"zero":false},"axis":{"orient":"right","values":[20,30,40,50,60,70,80],"labelExpr":"datum.value == 50 ? '50' : ''","title":null,"tickSize":{"condition":{"test":"datum.value == 50","value":7},"value":3},"labelPadding":34}}}}
]},
{"width":1555,"height":81,"layer":[
{"data":{"values":[{}]},"mark":{"type":"rect","fill":"#262626"},"encoding":{"x":{"datum":0.237,"type":"quantitative","scale":{"domain":[0.237,67.12],"nice":false,"zero":false},"axis":null},"x2":{"datum":69.2},"y":{"datum":99.92,"type":"quantitative","scale":{"domain":[-2.83,99.92],"nice":false,"zero":false},"axis":{"orient":"right","values":[0,10,20,30,40,50,60,70,80,90],"labelExpr":"datum.value == 50 ? '50' : ''","title":null,"tickSize":{"condition":{"test":"datum.value == 50","value":7},"value":3},"labelPadding":34,"labelColor":"#1a1a1a"}},"y2":{"datum":-2.83}}},
{"data":{"values":[{}]},"mark":{"type":"rule","color":"#7a7a7a","strokeWidth":1.5},"encoding":{"x":{"datum":0.237,"type":"quantitative","scale":{"domain":[0.237,67.12],"nice":false,"zero":false},"axis":null},"x2":{"datum":67.12},"y":{"datum":-2.3,"type":"quantitative","scale":{"domain":[-2.83,99.92],"nice":false,"zero":false},"axis":{"orient":"right","values":[0,10,20,30,40,50,60,70,80,90],"labelExpr":"datum.value == 50 ? '50' : ''","title":null,"tickSize":{"condition":{"test":"datum.value == 50","value":7},"value":3},"labelPadding":34,"labelColor":"#1a1a1a"}}}},
{"data":{"name":"days"},"transform":[{"filter":"datum.d != ''"}],"mark":{"type":"rule","color":"#b4b4b4","strokeDash":[3,3],"strokeWidth":1},"encoding":{"x":{"field":"v","type":"quantitative","scale":{"domain":[0.237,67.12],"nice":false,"zero":false},"axis":null}}},
{"data":{"values":[{"lvl":80},{"lvl":20}]},"mark":{"type":"rule","color":"#b80000","strokeWidth":1.5},"encoding":{"x":{"datum":0.237,"type":"quantitative","scale":{"domain":[0.237,67.12],"nice":false,"zero":false},"axis":null},"x2":{"datum":62.8},"y":{"field":"lvl","type":"quantitative","scale":{"domain":[-2.83,99.92],"nice":false,"zero":false},"axis":{"orient":"right","values":[0,10,20,30,40,50,60,70,80,90],"labelExpr":"datum.value == 50 ? '50' : ''","title":null,"tickSize":{"condition":{"test":"datum.value == 50","value":7},"value":3},"labelPadding":34,"labelColor":"#1a1a1a"}}}},
{"data":{"values":[{}]},"mark":{"type":"text","text":"Z_Pole w mov (50.7755, 51.9286, 80.0000, 20.0000)","fontSize":10.5,"font":"Liberation Sans","color":"#0a0a0a","align":"center","baseline":"middle"},"encoding":{"x":{"datum":33.7,"type":"quantitative","scale":{"domain":[0.237,67.12],"nice":false,"zero":false},"axis":null},"y":{"datum":88.5,"type":"quantitative","scale":{"domain":[-2.83,99.92],"nice":false,"zero":false},"axis":{"orient":"right","values":[0,10,20,30,40,50,60,70,80,90],"labelExpr":"datum.value == 50 ? '50' : ''","title":null,"tickSize":{"condition":{"test":"datum.value == 50","value":7},"value":3},"labelPadding":34,"labelColor":"#1a1a1a"}}}},
{"data":{"name":"zp"},"mark":{"type":"line","color":"#e60000","strokeWidth":1},"encoding":{"detail":{"field":"s"},"x":{"field":"v","type":"quantitative","scale":{"domain":[0.237,67.12],"nice":false,"zero":false},"axis":null},"y":{"field":"z","type":"quantitative","scale":{"domain":[-2.83,99.92],"nice":false,"zero":false},"axis":{"orient":"right","values":[0,10,20,30,40,50,60,70,80,90],"labelExpr":"datum.value == 50 ? '50' : ''","title":null,"tickSize":{"condition":{"test":"datum.value == 50","value":7},"value":3},"labelPadding":34,"labelColor":"#1a1a1a"}}}}
]},
{"width":1555,"height":550,"layer":[
{"data":{"name":"days"},"transform":[{"filter":"datum.d != ''"}],"mark":{"type":"rule","color":"#c4c4c4","strokeDash":[3,3],"strokeWidth":1},"encoding":{"x":{"field":"v","type":"quantitative","scale":{"domain":[0.237,67.12],"nice":false,"zero":false},"axis":null}}},
{"data":{"values":[{"lvl":543.7},{"lvl":535}]},"mark":{"type":"rule","color":"#0000ff","strokeWidth":1.2},"encoding":{"x":{"datum":0.237,"type":"quantitative","scale":{"domain":[0.237,67.12],"nice":false,"zero":false},"axis":null},"x2":{"datum":67.12},"y":{"field":"lvl","type":"quantitative","scale":{"domain":[525.73,634.86],"nice":false,"zero":false},"axis":{"orient":"right","tickCount":110,"labelExpr":"datum.value % 5 == 0 ? datum.label : ''","title":null,"tickSize":{"condition":{"test":"datum.value % 5 == 0","value":7},"value":3},"labelPadding":34}}}},
{"data":{"name":"bands"},"transform":[{"filter":"datum.s == 'up' || datum.s == 'lo'"}],"mark":{"type":"line","color":"#6fb0b0","strokeWidth":1.2,"interpolate":"monotone"},"encoding":{"detail":{"field":"s"},"x":{"field":"v","type":"quantitative","scale":{"domain":[0.237,67.12],"nice":false,"zero":false},"axis":null},"y":{"field":"y","type":"quantitative","scale":{"domain":[525.73,634.86],"nice":false,"zero":false},"axis":{"orient":"right","tickCount":110,"labelExpr":"datum.value % 5 == 0 ? datum.label : ''","title":null,"tickSize":{"condition":{"test":"datum.value % 5 == 0","value":7},"value":3},"labelPadding":34}}}},
{"data":{"name":"bands"},"transform":[{"filter":"datum.s == 'mid'"}],"mark":{"type":"line","color":"#2e8b88","strokeWidth":2.6,"interpolate":"monotone"},"encoding":{"x":{"field":"v","type":"quantitative","scale":{"domain":[0.237,67.12],"nice":false,"zero":false},"axis":null},"y":{"field":"y","type":"quantitative","scale":{"domain":[525.73,634.86],"nice":false,"zero":false},"axis":{"orient":"right","tickCount":110,"labelExpr":"datum.value % 5 == 0 ? datum.label : ''","title":null,"tickSize":{"condition":{"test":"datum.value % 5 == 0","value":7},"value":3},"labelPadding":34}}}},
{"data":{"name":"bands"},"transform":[{"filter":"datum.s == 'ma'"}],"mark":{"type":"line","color":"#ff0000","strokeWidth":2.6,"interpolate":"monotone"},"encoding":{"x":{"field":"v","type":"quantitative","scale":{"domain":[0.237,67.12],"nice":false,"zero":false},"axis":null},"y":{"field":"y","type":"quantitative","scale":{"domain":[525.73,634.86],"nice":false,"zero":false},"axis":{"orient":"right","tickCount":110,"labelExpr":"datum.value % 5 == 0 ? datum.label : ''","title":null,"tickSize":{"condition":{"test":"datum.value % 5 == 0","value":7},"value":3},"labelPadding":34}}}},
{"data":{"name":"candles"},"mark":{"type":"rule","strokeWidth":1},"encoding":{"x":{"field":"v","type":"quantitative","scale":{"domain":[0.237,67.12],"nice":false,"zero":false},"axis":null},"y":{"field":"l","type":"quantitative","scale":{"domain":[525.73,634.86],"nice":false,"zero":false},"axis":{"orient":"right","tickCount":110,"labelExpr":"datum.value % 5 == 0 ? datum.label : ''","title":null,"tickSize":{"condition":{"test":"datum.value % 5 == 0","value":7},"value":3},"labelPadding":34}},"y2":{"field":"h"},"color":{"field":"tr","type":"nominal","scale":{"domain":["b","g","r"],"range":["#0000ff","#008c00","#ff0000"]},"legend":null}}},
{"data":{"name":"candles"},"mark":{"type":"bar","orient":"vertical","size":2.6,"strokeWidth":0.9},"encoding":{"x":{"field":"v","type":"quantitative","scale":{"domain":[0.237,67.12],"nice":false,"zero":false},"axis":null},"y":{"field":"o","type":"quantitative","scale":{"domain":[525.73,634.86],"nice":false,"zero":false},"axis":{"orient":"right","tickCount":110,"labelExpr":"datum.value % 5 == 0 ? datum.label : ''","title":null,"tickSize":{"condition":{"test":"datum.value % 5 == 0","value":7},"value":3},"labelPadding":34}},"y2":{"field":"c"},"fill":{"condition":{"test":"datum.c > datum.o","value":"#ffffff"},"field":"tr","type":"nominal","scale":{"domain":["b","g","r"],"range":["#0000ff","#008c00","#ff0000"]},"legend":null},"stroke":{"field":"tr","type":"nominal","scale":{"domain":["b","g","r"],"range":["#0000ff","#008c00","#ff0000"]},"legend":null}}},
{"data":{"values":[{}]},"mark":{"type":"text","text":"DTR (549.080, 549.820, 546.280, 547.770, -1.310)","fontSize":10.5,"font":"Liberation Sans","color":"#000","align":"center","baseline":"middle"},"encoding":{"x":{"datum":33.7,"type":"quantitative","scale":{"domain":[0.237,67.12],"nice":false,"zero":false},"axis":null},"y":{"datum":633.1,"type":"quantitative","scale":{"domain":[525.73,634.86],"nice":false,"zero":false},"axis":{"orient":"right","tickCount":110,"labelExpr":"datum.value % 5 == 0 ? datum.label : ''","title":null,"tickSize":{"condition":{"test":"datum.value % 5 == 0","value":7},"value":3},"labelPadding":34}}}},
{"data":{"values":[{"v":30.22,"y":616.2,"t":"banks index 60min"},{"v":30.22,"y":610.4,"t":"short stop 564"},{"v":45.0,"y":549.3,"t":"www.fastfinance.gr"}]},"mark":{"type":"text","fontSize":19,"font":"DejaVu Sans","fontStyle":"italic","color":"#1f1fff","align":"left","baseline":"middle"},"encoding":{"text":{"field":"t"},"x":{"field":"v","type":"quantitative","scale":{"domain":[0.237,67.12],"nice":false,"zero":false},"axis":null},"y":{"field":"y","type":"quantitative","scale":{"domain":[525.73,634.86],"nice":false,"zero":false},"axis":{"orient":"right","tickCount":110,"labelExpr":"datum.value % 5 == 0 ? datum.label : ''","title":null,"tickSize":{"condition":{"test":"datum.value % 5 == 0","value":7},"value":3},"labelPadding":34}}}},
{"data":{"values":[{"v":62.9,"y":578.9,"t":"580"},{"v":63.8,"y":566.0,"t":"564"},{"v":61.7,"y":538.8,"t":"543"}]},"mark":{"type":"text","fontSize":23,"font":"DejaVu Sans","fontStyle":"italic","color":"#1f1fff","align":"left","baseline":"middle"},"encoding":{"text":{"field":"t"},"x":{"field":"v","type":"quantitative","scale":{"domain":[0.237,67.12],"nice":false,"zero":false},"axis":null},"y":{"field":"y","type":"quantitative","scale":{"domain":[525.73,634.86],"nice":false,"zero":false},"axis":{"orient":"right","tickCount":110,"labelExpr":"datum.value % 5 == 0 ? datum.label : ''","title":null,"tickSize":{"condition":{"test":"datum.value % 5 == 0","value":7},"value":3},"labelPadding":34}}}}
]},
{"width":1555,"height":36,"layer":[
{"data":{"name":"days"},"transform":[{"filter":"datum.d != ''"}],"mark":{"type":"rule","color":"#c4c4c4","strokeDash":[3,3],"strokeWidth":1},"encoding":{"x":{"field":"v","type":"quantitative","scale":{"domain":[0.237,67.12],"nice":false,"zero":false},"axis":null}}},
{"data":{"values":[{}]},"mark":{"type":"rule","color":"#8c8c8c","strokeWidth":2},"encoding":{"x":{"datum":0.237,"type":"quantitative","scale":{"domain":[0.237,67.12],"nice":false,"zero":false},"axis":null},"x2":{"datum":67.12},"y":{"datum":46600,"type":"quantitative","scale":{"domain":[0,47000],"nice":false,"zero":false},"axis":{"orient":"right","values":[5000,10000,15000,20000,25000,30000,35000,40000,45000],"labelExpr":"datum.value == 30000 ? '30000' : datum.value == 10000 ? '10000' : ''","title":null,"tickSize":{"condition":{"test":"datum.value == 30000 || datum.value == 10000","value":7},"value":3},"labelPadding":34}}}},
{"data":{"name":"candles"},"mark":{"type":"rule","color":"#3a3aff","strokeWidth":1},"encoding":{"x":{"field":"v","type":"quantitative","scale":{"domain":[0.237,67.12],"nice":false,"zero":false},"axis":null},"y":{"field":"vol","type":"quantitative","scale":{"domain":[0,47000],"nice":false,"zero":false},"axis":{"orient":"right","values":[5000,10000,15000,20000,25000,30000,35000,40000,45000],"labelExpr":"datum.value == 30000 ? '30000' : datum.value == 10000 ? '10000' : ''","title":null,"tickSize":{"condition":{"test":"datum.value == 30000 || datum.value == 10000","value":7},"value":3},"labelPadding":34}},"y2":{"datum":0}}},
{"data":{"values":[{}]},"mark":{"type":"rect","fill":"#ffffff","stroke":"#000000","strokeWidth":1},"encoding":{"x":{"datum":67.2,"type":"quantitative","scale":{"domain":[0.237,67.12],"nice":false,"zero":false},"axis":null},"x2":{"datum":68.28},"y":{"datum":300,"type":"quantitative","scale":{"domain":[0,47000],"nice":false,"zero":false},"axis":{"orient":"right","values":[5000,10000,15000,20000,25000,30000,35000,40000,45000],"labelExpr":"datum.value == 30000 ? '30000' : datum.value == 10000 ? '10000' : ''","title":null,"tickSize":{"condition":{"test":"datum.value == 30000 || datum.value == 10000","value":7},"value":3},"labelPadding":34}},"y2":{"datum":13000}}},
{"data":{"values":[{}]},"mark":{"type":"text","text":"x1000","fontSize":7.5,"font":"Liberation Sans","color":"#000","align":"center","baseline":"middle"},"encoding":{"x":{"datum":67.74,"type":"quantitative","scale":{"domain":[0.237,67.12],"nice":false,"zero":false},"axis":null},"y":{"datum":6600,"type":"quantitative","scale":{"domain":[0,47000],"nice":false,"zero":false},"axis":{"orient":"right","values":[5000,10000,15000,20000,25000,30000,35000,40000,45000],"labelExpr":"datum.value == 30000 ? '30000' : datum.value == 10000 ? '10000' : ''","title":null,"tickSize":{"condition":{"test":"datum.value == 30000 || datum.value == 10000","value":7},"value":3},"labelPadding":34}}}}
]},
{"width":1555,"height":27,"layer":[
{"data":{"values":[{"lvl":0.5},{"lvl":14}]},"mark":{"type":"rule","color":"#000","strokeWidth":1},"encoding":{"x":{"datum":0.237,"type":"quantitative","scale":{"domain":[0.237,67.12],"nice":false,"zero":false},"axis":null},"x2":{"datum":67.12},"y":{"field":"lvl","type":"quantitative","scale":{"domain":[0,27],"reverse":true,"nice":false,"zero":false},"axis":null}}},
{"data":{"name":"days"},"transform":[{"filter":"!datum.wk"}],"mark":{"type":"rule","color":"#000","strokeWidth":1},"encoding":{"x":{"field":"v","type":"quantitative","scale":{"domain":[0.237,67.12],"nice":false,"zero":false},"axis":null},"y":{"datum":0,"type":"quantitative","scale":{"domain":[0,27],"reverse":true,"nice":false,"zero":false},"axis":null},"y2":{"datum":4}}},
{"data":{"name":"days"},"transform":[{"filter":"datum.wk"}],"mark":{"type":"rule","color":"#000","strokeWidth":1},"encoding":{"x":{"field":"v","type":"quantitative","scale":{"domain":[0.237,67.12],"nice":false,"zero":false},"axis":null},"y":{"datum":0,"type":"quantitative","scale":{"domain":[0,27],"reverse":true,"nice":false,"zero":false},"axis":null},"y2":{"datum":14}}},
{"data":{"name":"months"},"mark":{"type":"rule","color":"#000","strokeWidth":1},"encoding":{"x":{"field":"v","type":"quantitative","scale":{"domain":[0.237,67.12],"nice":false,"zero":false},"axis":null},"y":{"datum":14,"type":"quantitative","scale":{"domain":[0,27],"reverse":true,"nice":false,"zero":false},"axis":null},"y2":{"datum":27}}},
{"data":{"name":"days"},"mark":{"type":"text","fontSize":11,"font":"Liberation Sans","color":"#000","align":"left","baseline":"middle","dx":3},"encoding":{"text":{"field":"d"},"x":{"field":"v","type":"quantitative","scale":{"domain":[0.237,67.12],"nice":false,"zero":false},"axis":null},"y":{"datum":7.5,"type":"quantitative","scale":{"domain":[0,27],"reverse":true,"nice":false,"zero":false},"axis":null}}},
{"data":{"name":"months"},"mark":{"type":"text","fontSize":11,"font":"Liberation Sans","color":"#000","align":"left","baseline":"middle","dx":3},"encoding":{"text":{"field":"m"},"x":{"field":"v","type":"quantitative","scale":{"domain":[0.237,67.12],"nice":false,"zero":false},"axis":null},"y":{"datum":20.8,"type":"quantitative","scale":{"domain":[0,27],"reverse":true,"nice":false,"zero":false},"axis":null}}}
]}
]
}
